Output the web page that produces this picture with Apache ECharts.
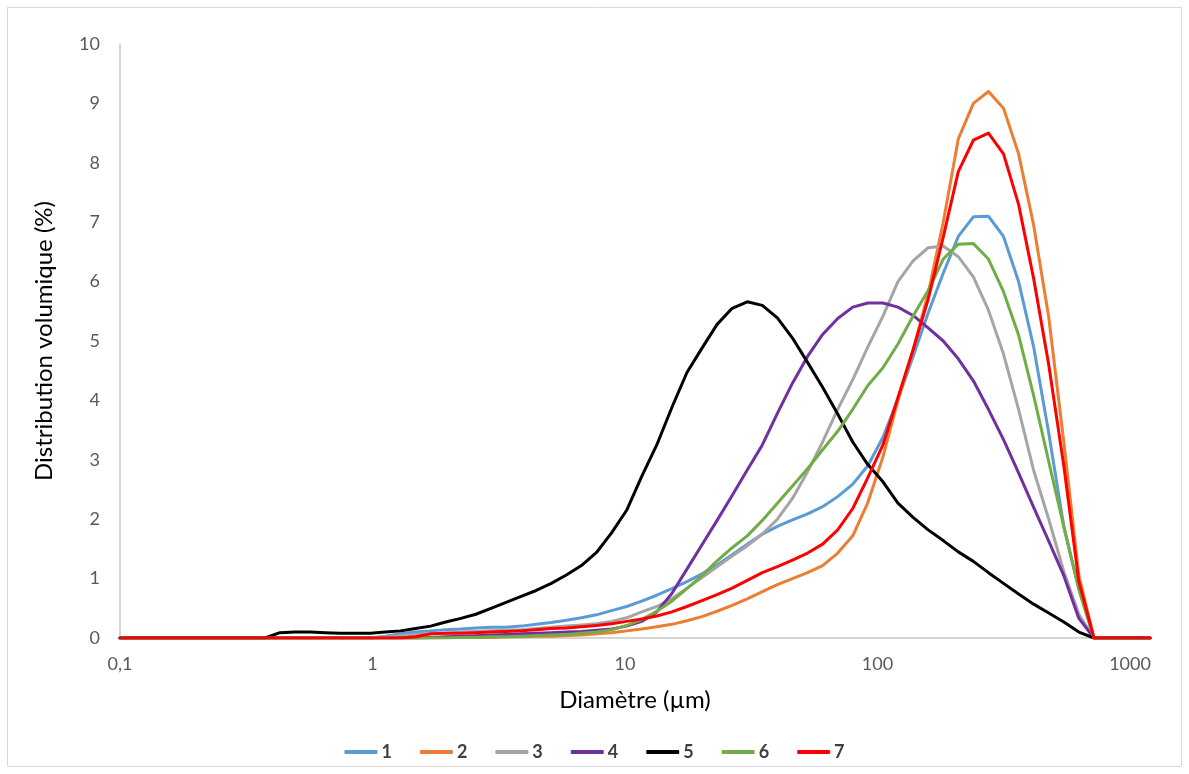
<!DOCTYPE html>
<html>
<head>
<meta charset="utf-8">
<script src="https://cdn.jsdelivr.net/npm/echarts@6/dist/echarts.min.js"></script>
<style>
html,body{margin:0;padding:0;background:#fff;}
#chart{width:1189px;height:774px;}
</style>
</head>
<body>
<div id="chart"></div>
<script>
// Particle diameters (µm), log-spaced size classes
const sizes = [0.1, 0.285, 0.327, 0.375, 0.430, 0.493, 0.566, 0.649, 0.745, 0.855, 0.981,
  1.125, 1.291, 1.481, 1.699, 1.950, 2.237, 2.567, 2.945, 3.380, 3.878,
  4.449, 5.105, 5.857, 6.720, 7.711, 8.847, 10.15, 11.65, 13.36, 15.33,
  17.59, 20.18, 23.16, 26.57, 30.49, 34.98, 40.13, 46.05, 52.84, 60.62,
  69.56, 79.80, 91.56, 105.1, 120.5, 138.3, 158.7, 182.1, 208.9, 239.7,
  275.0, 315.5, 362.0, 415.4, 476.6, 546.8, 627.4, 719.8, 825.9, 947.5, 1087, 1200];

const seriesNames = ['1', '2', '3', '4', '5', '6', '7'];

const s1 = [0,0,0,0,0,0,0,0,0,0,0,
  0.03,0.07,0.10,0.12,0.14,0.15,0.17,0.18,0.18,0.20,
  0.23,0.26,0.30,0.34,0.39,0.46,0.53,0.62,0.72,0.83,
  0.95,1.08,1.23,1.40,1.58,1.75,1.88,1.99,2.09,2.21,
  2.38,2.59,2.90,3.38,4.02,4.74,5.47,6.14,6.76,7.09,
  7.10,6.76,6.00,4.90,3.45,1.88,0.82,0,0,0,0,0];

const s2 = [0,0,0,0,0,0,0,0,0,0,0,
  0,0,0,0,0.01,0.01,0.01,0.01,0.02,0.02,
  0.03,0.03,0.04,0.05,0.07,0.09,0.12,0.15,0.19,0.23,
  0.29,0.36,0.45,0.55,0.66,0.78,0.90,1.00,1.10,1.22,
  1.43,1.72,2.28,3.05,4.00,4.85,5.80,7.00,8.40,9.00,
  9.20,8.92,8.15,6.95,5.40,3.30,1.05,0,0,0,0,0];

const s3 = [0,0,0,0,0,0,0,0,0,0,0,
  0.02,0.04,0.06,0.07,0.08,0.10,0.11,0.12,0.13,0.14,
  0.16,0.18,0.20,0.22,0.24,0.28,0.34,0.44,0.53,0.66,
  0.84,1.02,1.20,1.38,1.55,1.75,2.00,2.35,2.80,3.30,
  3.85,4.35,4.90,5.42,6.00,6.35,6.57,6.60,6.42,6.08,
  5.52,4.78,3.85,2.82,2.00,1.12,0.40,0,0,0,0,0];

const s4 = [0,0,0,0,0,0,0,0,0,0,0,
  0,0,0,0.01,0.02,0.03,0.04,0.05,0.06,0.07,
  0.08,0.09,0.10,0.11,0.13,0.15,0.20,0.28,0.44,0.75,
  1.16,1.57,1.98,2.40,2.83,3.25,3.78,4.29,4.74,5.11,
  5.38,5.57,5.64,5.64,5.57,5.43,5.22,5.00,4.70,4.33,
  3.85,3.34,2.78,2.20,1.63,1.05,0.33,0,0,0,0,0];

const s5 = [0,0,0,0,0.09,0.10,0.10,0.09,0.08,0.08,0.08,
  0.10,0.12,0.16,0.20,0.27,0.33,0.40,0.50,0.60,0.70,
  0.80,0.92,1.06,1.22,1.44,1.77,2.15,2.72,3.25,3.88,
  4.47,4.88,5.28,5.55,5.66,5.60,5.39,5.05,4.64,4.22,
  3.77,3.30,2.92,2.63,2.27,2.03,1.82,1.64,1.45,1.29,
  1.10,0.92,0.74,0.57,0.42,0.27,0.10,0,0,0,0,0];

const s6 = [0,0,0,0,0,0,0,0,0,0,0,
  0,0,0,0,0,0.01,0.01,0.02,0.02,0.03,
  0.04,0.05,0.06,0.08,0.10,0.14,0.21,0.31,0.45,0.62,
  0.83,1.05,1.30,1.52,1.72,1.98,2.27,2.56,2.85,3.17,
  3.48,3.85,4.25,4.55,4.95,5.42,5.85,6.38,6.63,6.64,
  6.38,5.83,5.10,4.08,2.97,1.87,0.82,0,0,0,0,0];

const s7 = [0,0,0,0,0,0,0,0,0,0,0,
  0,0,0.02,0.07,0.08,0.08,0.09,0.10,0.11,0.12,
  0.14,0.16,0.17,0.19,0.21,0.24,0.28,0.32,0.37,0.44,
  0.53,0.63,0.73,0.84,0.97,1.10,1.20,1.31,1.43,1.58,
  1.82,2.18,2.70,3.25,4.05,4.85,5.70,6.75,7.85,8.38,
  8.50,8.15,7.30,6.05,4.60,2.90,0.95,0,0,0,0,0];

const seriesValues = [s1, s2, s3, s4, s5, s6, s7];
const seriesColors = ['#5B9BD5', '#ED7D31', '#A5A5A5', '#7030A0', '#000000', '#70AD47', '#FF0000'];

const xTickValues = [0.1, 1, 10, 100, 1000];
const xTickLabels = ['0,1', '1', '10', '100', '1000'];

const FONT = 'Lato, "Open Sans", sans-serif';

const chart = echarts.init(document.getElementById('chart'), null, {renderer: 'canvas'});

const series = seriesNames.map((name, si) => ({
  name: name,
  type: 'line',
  data: sizes.map((x, i) => [x, seriesValues[si][i]]),
  showSymbol: false,
  symbol: 'none',
  smooth: false,
  lineStyle: {width: 3, color: seriesColors[si], cap: 'round', join: 'round'},
  itemStyle: {color: seriesColors[si]},
  emphasis: {disabled: true},
  animation: false
}));

chart.setOption({
  animation: false,
  backgroundColor: '#ffffff',
  textStyle: {fontFamily: FONT},
  graphic: [{
    type: 'rect',
    shape: {x: 7.5, y: 7.5, width: 1174, height: 759},
    style: {fill: 'none', stroke: '#D9D9D9', lineWidth: 1},
    silent: true,
    z: -1
  }],
  grid: {left: 120, right: 39, top: 44, bottom: 136, containLabel: false},
  xAxis: {
    type: 'log',
    logBase: 10,
    min: 0.1,
    max: 1200,
    name: 'Diamètre (µm)',
    nameLocation: 'middle',
    nameGap: 50,
    nameTextStyle: {fontSize: 24, color: '#000000', fontFamily: FONT},
    axisLine: {show: true, lineStyle: {color: '#C8C8C8', width: 1.5}},
    axisTick: {show: false},
    splitLine: {show: false},
    minorTick: {show: false},
    axisLabel: {
      fontSize: 18,
      color: '#595959',
      margin: 17,
      fontFamily: FONT,
      showMaxLabel: true,
      showMinLabel: true,
      formatter: function (v) {
        for (let i = 0; i < xTickValues.length; i++) {
          if (Math.abs(Math.log10(v) - Math.log10(xTickValues[i])) < 1e-6) return xTickLabels[i];
        }
        return '';
      }
    }
  },
  yAxis: {
    type: 'value',
    min: 0,
    max: 10,
    interval: 1,
    name: 'Distribution volumique (%)',
    nameLocation: 'middle',
    nameGap: 64,
    nameTextStyle: {fontSize: 24, color: '#000000', fontFamily: FONT},
    axisLine: {show: true, lineStyle: {color: '#C8C8C8', width: 1.5}},
    axisTick: {show: false},
    splitLine: {show: false},
    axisLabel: {fontSize: 18, color: '#595959', margin: 20, fontFamily: FONT}
  },
  legend: {
    data: seriesNames.map((n, i) => ({name: n, icon: 'roundRect'})),
    left: 'center',
    top: 738,
    itemWidth: 33,
    itemHeight: 4,
    itemGap: 28,
    textStyle: {fontSize: 18, fontWeight: 'bold', color: '#404040', fontFamily: FONT, padding: [0, 0, 0, -1]}
  },
  series: series
});
</script>
</body>
</html>
